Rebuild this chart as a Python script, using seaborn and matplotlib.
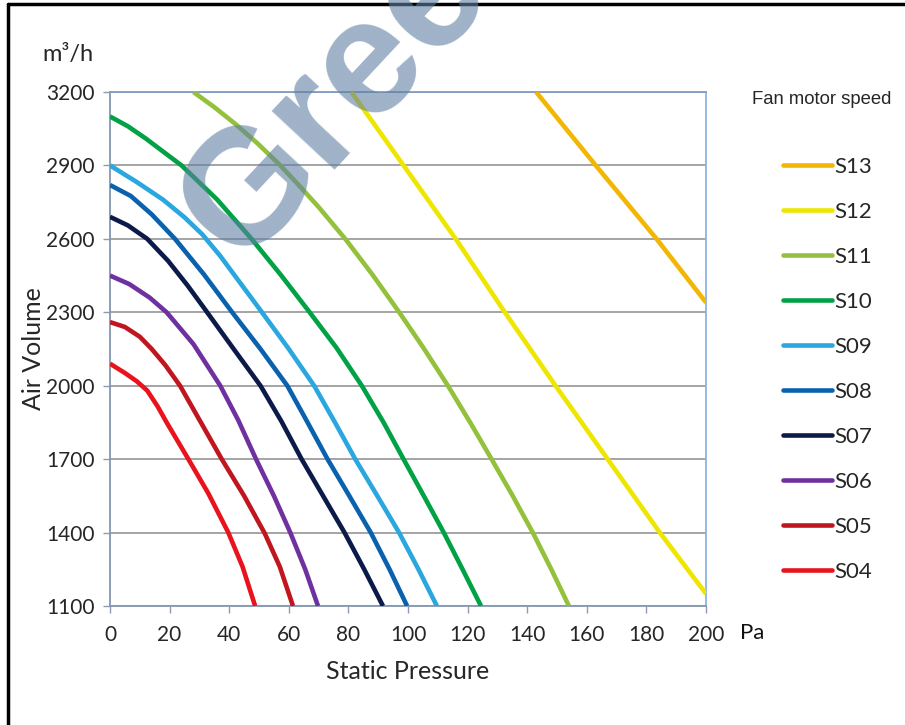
import matplotlib
matplotlib.use("Agg")
import matplotlib.pyplot as plt
from matplotlib.lines import Line2D
import seaborn as sns
import pandas as pd

# values (static pressure Pa, air volume m3/h)
s04_p = [0, 5, 9, 12.5, 16, 19, 26.3, 33, 39.7, 44.5, 48.7]
s04_q = [2090, 2052, 2018, 1980, 1915, 1850, 1700, 1560, 1400, 1260, 1100]
s05_p = [0, 5, 10, 14, 18.5, 23.5, 30.5, 37.5, 45, 52, 57, 61.4]
s05_q = [2260, 2240, 2200, 2150, 2085, 2000, 1850, 1700, 1550, 1395, 1260, 1100]
s06_p = [0, 6.5, 13.3, 19, 28, 37, 43, 49, 55, 60.5, 65.5, 69.8]
s06_q = [2450, 2415, 2360, 2300, 2170, 2000, 1860, 1700, 1550, 1400, 1250, 1100]
s07_p = [0, 6, 12.5, 19.5, 26, 32, 41.5, 50.5, 57.5, 64.3, 71.5, 78.7, 85.3, 91.6]
s07_q = [2690, 2655, 2600, 2510, 2410, 2310, 2150, 2000, 1855, 1700, 1550, 1400, 1250, 1100]
s08_p = [0, 7, 14, 21.8, 31.5, 41, 50.5, 59.5, 66.3, 73, 80.3, 87.5, 93.8, 99.7]
s08_q = [2820, 2775, 2700, 2600, 2455, 2300, 2150, 2000, 1850, 1700, 1550, 1400, 1250, 1100]
s09_p = [0, 9, 17.8, 25, 31, 37, 44, 51, 60, 68.5, 75.5, 82.3, 89.7, 97, 103.5, 109.7]
s09_q = [2900, 2832, 2760, 2688, 2618, 2530, 2415, 2300, 2150, 2000, 1850, 1700, 1550, 1400, 1250, 1100]
s10_p = [0, 6, 12, 24, 36, 47.5, 57.5, 67, 76, 84.5, 91.8, 98.5, 105.3, 112, 118.3, 124.5]
s10_q = [3100, 3060, 3010, 2900, 2760, 2600, 2450, 2300, 2155, 2000, 1850, 1700, 1550, 1400, 1250, 1100]
s11_p = [28, 35, 42, 49.5, 57, 63, 70, 79, 88, 97, 105, 113.5, 121, 128, 135, 142, 148, 154]
s11_q = [3200, 3138, 3070, 2990, 2902, 2824, 2730, 2599, 2455, 2301, 2158, 1998, 1847, 1701,
         1553, 1397, 1252, 1100]
s12_p = [81, 98.5, 116, 132.5, 149.5, 167, 184.5, 200]
s12_q = [3200, 2900, 2600, 2300, 2000, 1700, 1400, 1150]
s13_p = [143, 163, 183.4, 200]
s13_q = [3200, 2900, 2600, 2340]

speeds = ["S13", "S12", "S11", "S10", "S09", "S08", "S07", "S06", "S05", "S04"]
series = {
    "S04": (s04_p, s04_q), "S05": (s05_p, s05_q), "S06": (s06_p, s06_q),
    "S07": (s07_p, s07_q), "S08": (s08_p, s08_q), "S09": (s09_p, s09_q),
    "S10": (s10_p, s10_q), "S11": (s11_p, s11_q), "S12": (s12_p, s12_q),
    "S13": (s13_p, s13_q),
}
colors = {
    "S13": "#F2B705", "S12": "#EFE600", "S11": "#94C13C", "S10": "#00A245",
    "S09": "#2AA7DF", "S08": "#0A62AE", "S07": "#0B1A48", "S06": "#7031A0",
    "S05": "#C0161F", "S04": "#E8131D",
}
x_ticks = list(range(0, 201, 20))
y_ticks = list(range(1100, 3201, 300))

rows = []
for name, (p, q) in series.items():
    for pi, qi in zip(p, q):
        rows.append({"speed": name, "pressure": pi, "volume": qi})
df = pd.DataFrame(rows)

sns.set_theme(style="white")
plt.rcParams["font.family"] = ["Lato", "DejaVu Sans"]

fig = plt.figure(figsize=(9.05, 7.25), dpi=100)
ax = fig.add_axes([110 / 905, 1 - 606 / 725, 596 / 905, 514 / 725])

sns.lineplot(data=df, x="pressure", y="volume", hue="speed", palette=colors,
             hue_order=speeds, linewidth=3.3, sort=False, estimator=None,
             legend=False, ax=ax, zorder=3)
for ln in ax.get_lines():
    ln.set_solid_joinstyle("round")
    ln.set_solid_capstyle("butt")

ax.set_xlim(0, 200)
ax.set_ylim(1100, 3200)
ax.set_xticks(x_ticks)
ax.set_yticks(y_ticks)
ax.yaxis.grid(True, color="#8c8c8c", linewidth=1.1)
ax.xaxis.grid(False)
ax.tick_params(axis="both", direction="out", length=5, width=1, color="#8c9bb0",
               labelsize=15, labelcolor="#262626", left=True, bottom=True)
ax.tick_params(axis="y", pad=6)
ax.tick_params(axis="x", pad=8.5)
ax.spines["top"].set_color("#7f9dc4")
ax.spines["right"].set_color("#8eb4e3")
ax.spines["left"].set_color("#8497b0")
ax.spines["bottom"].set_color("#8497b0")
for s in ax.spines.values():
    s.set_linewidth(1.3)

ax.set_xlabel("Static Pressure", fontsize=18, color="#262626", labelpad=11)
ax.set_ylabel("Air Volume", fontsize=18, color="#262626", labelpad=1)

fig.text(42 / 905, 1 - 55 / 725, "m³/h", fontsize=17, color="#262626",
         ha="left", va="center")
fig.text(740 / 905, 1 - 633 / 725, "Pa", fontsize=16, color="#111111",
         ha="left", va="center")

# legend
handles = [Line2D([0], [0], color=colors[s], linewidth=3.3) for s in speeds]
fig.text(752 / 905, 1 - 100 / 725, "Fan motor speed", fontsize=13.3,
         family="Liberation Sans", color="#262626", ha="left", va="center")
fig.legend(handles, speeds, loc="upper left",
           bbox_to_anchor=(783 / 905, 1 - 157 / 725), frameon=False,
           fontsize=16, labelspacing=1.125, handlelength=2.2,
           handletextpad=0.1, borderpad=0, borderaxespad=0, labelcolor="#262626")

# watermark
fig.text(335 / 905, 1 - 100 / 725, "Gree", fontsize=118, fontweight="bold",
         family="Liberation Sans", color="#5f7fa3", alpha=0.6, rotation=47,
         ha="center", va="center", zorder=10)

# outer frame (left and top edges visible in the reference)
fig.add_artist(Line2D([8 / 905, 8 / 905], [0, 1 - 4 / 725], color="black",
                      linewidth=2.5, transform=fig.transFigure))
fig.add_artist(Line2D([8 / 905, 1], [1 - 4 / 725, 1 - 4 / 725], color="black",
                      linewidth=2.5, transform=fig.transFigure))

fig.savefig("out.png", dpi=100)
